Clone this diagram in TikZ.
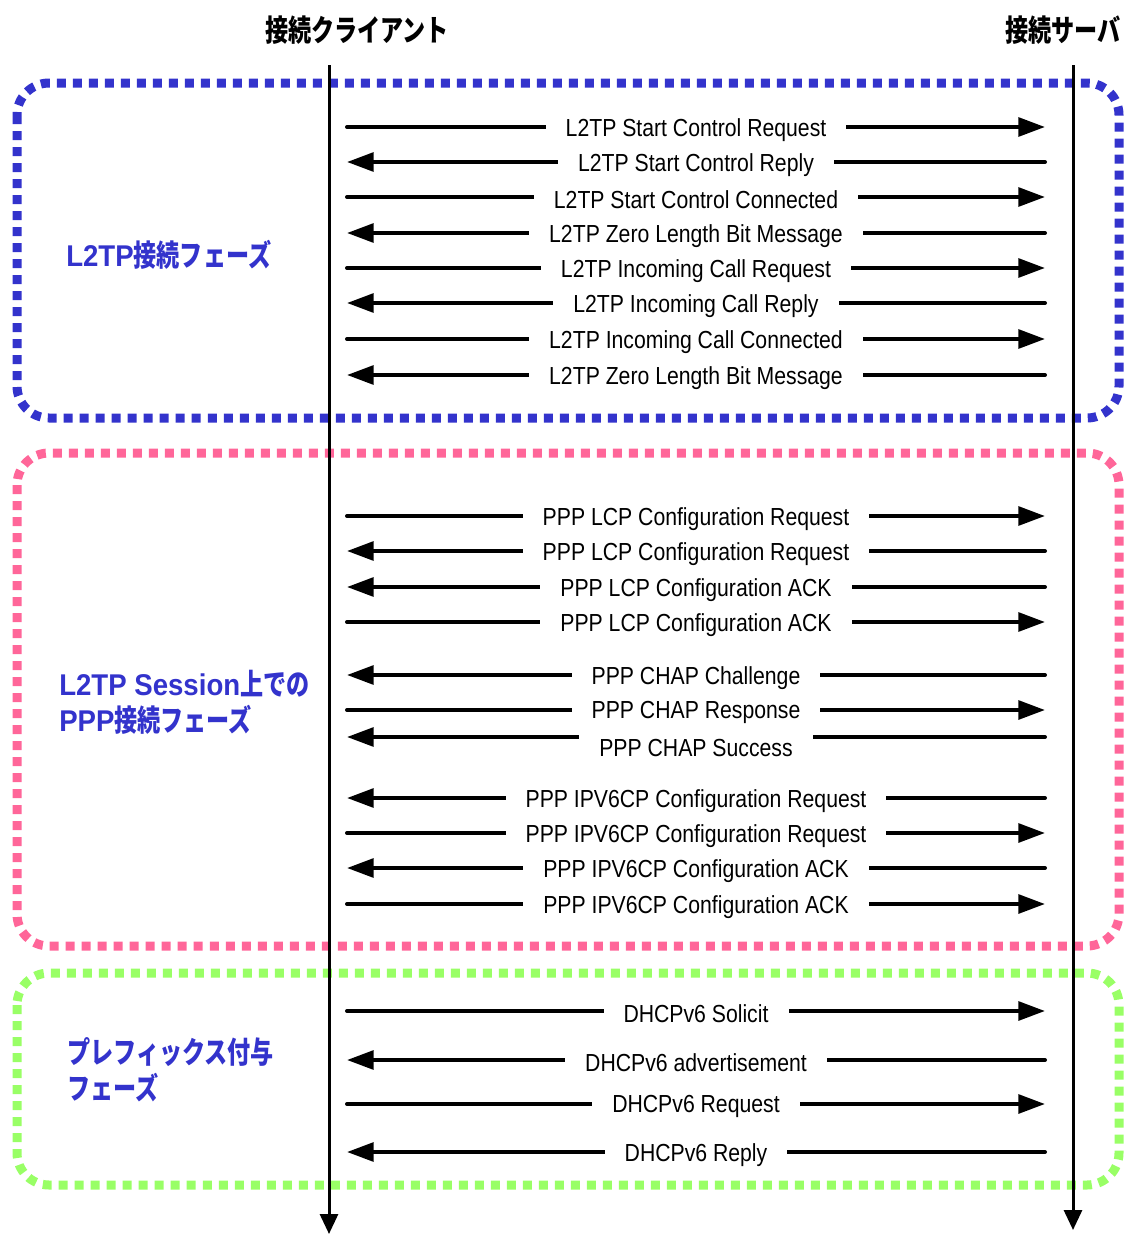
\documentclass[tikz,border=0pt]{standalone}
\usepackage{fontspec}
\setmainfont{Liberation Sans}
\newfontfamily\msgfont{Liberation Sans}[FakeStretch=0.86]
\newfontfamily\jpfont{Noto Sans CJK JP}[FakeStretch=0.77]
\newfontfamily\lblatin{Liberation Sans}[FakeStretch=0.92]
\usepackage{tikz}
\usetikzlibrary{arrows.meta}
\definecolor{l2tpblue}{HTML}{3333CC}
\definecolor{ppppink}{HTML}{FF6699}
\definecolor{dhcpgreen}{HTML}{99FF66}
\newcommand{\lat}[1]{{\lblatin\bfseries #1}}

\begin{document}
\begin{tikzpicture}[x=0.75pt,y=-0.75pt,every node/.style={inner sep=0pt},
    life/.style={line width=2.25pt,-{Triangle[length=15pt,width=13.5pt]}},
    msg/.style={line width=3pt,line cap=round,-{Triangle[length=20pt,width=14pt]}},
    msglabel/.style={font=\msgfont\fontsize{18.5pt}{20pt}\selectfont,fill=white,inner xsep=15pt,inner ysep=3pt},
    phase/.style={line width=6.75pt,dash pattern=on 6.75pt off 5.25pt,rounded corners=24pt},
    head/.style={font=\jpfont\bfseries\fontsize{22.5pt}{24pt}\selectfont},
    phaselabel/.style={font=\jpfont\bfseries\fontsize{22.5pt}{27pt}\selectfont,text=l2tpblue,align=left,anchor=west}]
  \useasboundingbox (0,0) rectangle (1134,1235);

  % phases
  \draw[phase,l2tpblue] (17,83) rectangle (1119,418);
  \draw[phase,ppppink] (17,453) rectangle (1119,946);
  \draw[phase,dhcpgreen] (17,973) rectangle (1119,1185);

  \node[phaselabel] (l2tpLbl) at (66,255) {\lat{L2TP}接続フェーズ};
  \node[phaselabel] (pppLbl) at (59,702) {\lat{L2TP Session}上での\\\lat{PPP}接続フェーズ};
  \node[phaselabel] (pfxLbl) at (67,1070) {プレフィックス付与\\フェーズ};

  % lifelines
  \node[head] (client) at (357,30) {接続クライアント};
  \node[head] (server) at (1063,30) {接続サーバ};
  \coordinate (cTop) at (329,65);
  \coordinate (cEnd) at (329,1234);
  \coordinate (sTop) at (1073,65);
  \coordinate (sEnd) at (1073,1230);
  \draw[life] (cTop) -- (cEnd);
  \draw[life] (sTop) -- (sEnd);

  % messages
  \foreach \y/\a/\b/\d/\txt in {
      127/c/s/-2/L2TP Start Control Request,
      162/s/c/-2/L2TP Start Control Reply,
      197/c/s/-2/L2TP Start Control Connected,
      233/s/c/-2/L2TP Zero Length Bit Message,
      268/c/s/-2/L2TP Incoming Call Request,
      303/s/c/-2/L2TP Incoming Call Reply,
      339/c/s/-2/L2TP Incoming Call Connected,
      375/s/c/-2/L2TP Zero Length Bit Message,
      516/c/s/-2/PPP LCP Configuration Request,
      551/s/c/-2/PPP LCP Configuration Request,
      587/s/c/-2/PPP LCP Configuration ACK,
      622/c/s/-2/PPP LCP Configuration ACK,
      675/s/c/-2/PPP CHAP Challenge,
      710/c/s/-2/PPP CHAP Response,
      737/s/c/-8/PPP CHAP Success,
      798/s/c/-2/PPP IPV6CP Configuration Request,
      833/c/s/-2/PPP IPV6CP Configuration Request,
      868/s/c/-2/PPP IPV6CP Configuration ACK,
      904/c/s/-2/PPP IPV6CP Configuration ACK,
      1011/c/s/-2/DHCPv6 Solicit,
      1060/s/c/-2/DHCPv6 advertisement,
      1104/c/s/-2/DHCPv6 Request,
      1152/s/c/-2/DHCPv6 Reply} {
    \coordinate (c) at (347,\y);
    \coordinate (s) at (1045,\y);
    \draw[msg] (\a) -- (\b) node[midway,msglabel,yshift=\d pt] (t\y) {\txt};
  }
\end{tikzpicture}
\end{document}
